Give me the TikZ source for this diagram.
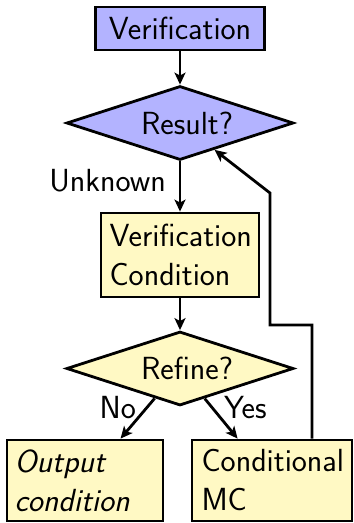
\documentclass[tikz,border=0pt]{standalone}
\usetikzlibrary{shapes.geometric,arrows.meta}
\definecolor{boxblue}{RGB}{179,179,255}
\definecolor{boxyellow}{RGB}{255,249,196}
\begin{document}
\begin{tikzpicture}[x=1pt,y=-1pt,
  every node/.style={font=\sffamily\fontsize{32}{39}\selectfont},
  lw/.style={line width=2.8pt},
  arr/.style={lw,-{Stealth[length=12pt,width=11pt,inset=3pt]}},
  sbox/.style={draw,lw,rectangle,inner sep=0pt,minimum height=43pt,minimum width=169pt,fill=boxblue},
  dbox/.style={draw,lw,rectangle,inner ysep=0pt,text width=141pt,align=left,fill=boxyellow},
  cond/.style={draw,lw,diamond,inner sep=0pt,aspect=3.07,minimum width=227pt,minimum height=74pt},
  lbl/.style={inner sep=0pt}]
\useasboundingbox (0,0) rectangle (354,523);
\node[sbox] (ver) at (180,28.5) {Verification};
\node[cond,fill=boxblue] (res) at (180,123) {\hspace*{14pt}Result?};
\node[dbox,inner xsep=8.5pt,minimum height=84pt] (vc) at (180,255) {Verification\\Condition};
\node[cond,fill=boxyellow] (ref) at (180,368.5) {\hspace*{14pt}Refine?};
\node[dbox,inner xsep=7.5pt,minimum height=81pt] (out) at (85,480.5) {\itshape Output\\condition};
\node[dbox,inner xsep=9.5pt,minimum height=81pt] (cmc) at (272,480.5) {Conditional\\MC};
\node[lbl,anchor=base east] (unk) at (166,191) {Unknown};
\node[lbl,anchor=base east] (no) at (136,418) {No};
\node[lbl,anchor=base west] (yes) at (224,418) {Yes};
\coordinate (b1) at (312,325);
\coordinate (b2) at (270,325);
\coordinate (b3) at (270,193);
\draw[arr] (ver) -- (res);
\draw[arr] (res) -- (vc);
\draw[arr] (vc) -- (ref);
\draw[arr] (ref) -- (out);
\draw[arr] (ref) -- (cmc);
\draw[arr,line join=miter] (cmc.north -| b1) -- (b1) -- (b2) -- (b3) -- (res);
\end{tikzpicture}
\end{document}
